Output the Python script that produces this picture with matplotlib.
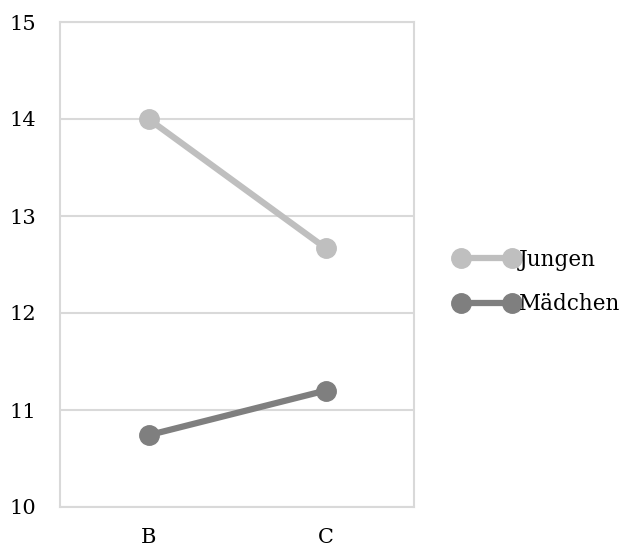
import matplotlib
matplotlib.use("Agg")
import matplotlib.pyplot as plt

categories = ["B", "C"]
jungen = [14.0, 12.67]
maedchen = [10.74, 11.2]
series_names = ["Jungen", "Mädchen"]
yticks = [10, 11, 12, 13, 14, 15]

plt.rcParams['font.family'] = ['DejaVu Serif']
fig = plt.figure(figsize=(6.22, 5.48), dpi=100)
ax = fig.add_axes([60/622, 41/548, 354/622, 485/548])

x = list(range(len(categories)))
ax.plot(x, jungen, color="#BFBFBF", lw=4.5, marker="o", ms=14, label=series_names[0], zorder=3)
ax.plot(x, maedchen, color="#7F7F7F", lw=4.5, marker="o", ms=14, label=series_names[1], zorder=3)

ax.set_xlim(-0.5, 1.5)
ax.set_ylim(10, 15)
ax.set_yticks(yticks)
ax.set_xticks(x)
ax.set_xticklabels(categories)
ax.yaxis.grid(True, color="#D9D9D9", lw=1.5)
ax.set_axisbelow(True)
for s in ax.spines.values():
    s.set_color("#D9D9D9")
    s.set_linewidth(1.5)
ax.tick_params(length=0, labelsize=15, colors="black")
ax.tick_params(axis="y", pad=17)
ax.tick_params(axis="x", pad=15)

leg = fig.legend(loc="center left", bbox_to_anchor=(455/622, 1 - 282/548), frameon=False,
                 fontsize=15.5, handlelength=2.95, handletextpad=0.0, numpoints=2,
                 labelspacing=1.05, borderpad=0, borderaxespad=0)
fig.savefig("out.png", dpi=100)
